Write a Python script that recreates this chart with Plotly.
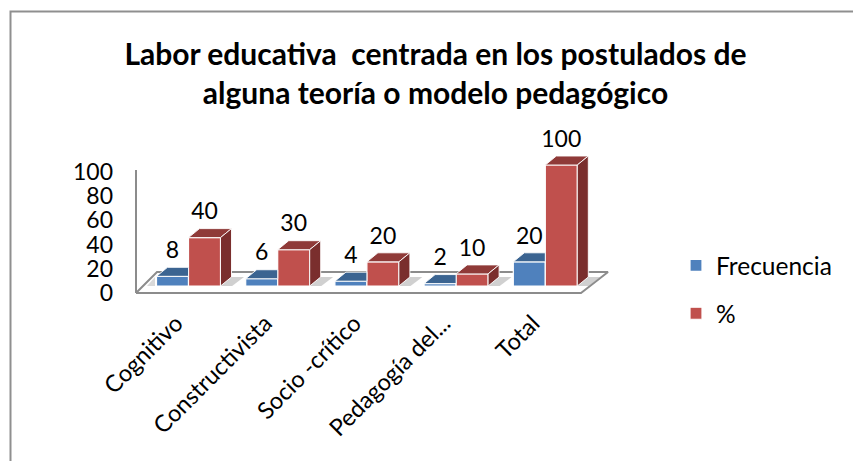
import plotly.graph_objects as go

categories = ["Cognitivo", "Constructivista", "Socio -crítico", "Pedagogía del...", "Total"]
frecuencia = [8, 6, 4, 2, 20]
porcentaje = [40, 30, 20, 10, 100]
y_ticks = [0, 20, 40, 60, 80, 100]
title_text = "Labor educativa  centrada en los postulados de<br>alguna teoría o modelo pedagógico"

W, H = 853, 461
L, R, T, B = 114, 620, 100, 300      # plot-area pixels
PX_X = 89.2                          # px per category
PX_Y = 1.21                          # px per value unit
X_ZERO = 188.5                       # px of category 0 (blue/red boundary)
Y0_MARK, Y0_AXIS = 286.0, 293.0      # px of zero for bars / for value axis

x_range = [(L - X_ZERO) / PX_X, (R - X_ZERO) / PX_X]
y_range_mark = [(Y0_MARK - B) / PX_Y, (Y0_MARK - T) / PX_Y]
y_range_axis = [(Y0_AXIS - B) / PX_Y, (Y0_AXIS - T) / PX_Y]

BW = 32 / PX_X
DX, DY = 11 / PX_X, 9 / PX_Y
FONT = "Lato, Carlito, sans-serif"
BLUE, BLUE_TOP = "#4F81BD", "#3B6491"
RED, RED_TOP, RED_SIDE = "#C0504D", "#8F3A38", "#7A2E2D"
GREY = "#8C8C8C"


def ux(px):
    return (px - X_ZERO) / PX_X


def uy(py):
    return (Y0_AXIS - py) / PX_Y


def poly(xs, ys, fill, xa="x", ya="y", line="rgba(255,255,255,0.9)", w=1):
    xs, ys = list(xs), list(ys)
    return go.Scatter(x=xs + [xs[0]], y=ys + [ys[0]], mode="lines", fill="toself",
                      fillcolor=fill, line=dict(color=line, width=w),
                      xaxis=xa, yaxis=ya, showlegend=False, hoverinfo="skip")


fig = go.Figure()

# floor and wall line, on the tick axis
fig.add_trace(poly([ux(136), ux(581), ux(608), ux(157)], [0, 0, uy(272), uy(272)],
                   "white", line=GREY, w=2))
fig.add_trace(go.Scatter(x=[ux(136), ux(136)], y=[0, uy(170)], mode="lines",
                         line=dict(color=GREY, width=2), showlegend=False, hoverinfo="skip"))
for k in range(len(categories)):
    xr = k + BW
    fig.add_trace(poly([xr, xr + DX, xr + DX + 0.14, xr + 0.13],
                       [uy(286), uy(277), uy(277), uy(286)],
                       "rgba(170,170,170,0.55)", line="rgba(0,0,0,0)", w=0))
fig.add_trace(poly([ux(147), ux(155), ux(155)], [uy(286), uy(277), uy(286)],
                   "rgba(170,170,170,0.45)", line="rgba(0,0,0,0)", w=0))

# front faces
fig.add_trace(go.Bar(x=list(range(5)), y=frecuencia, width=BW, offset=-BW, name="Frecuencia",
                     marker=dict(color=BLUE, line=dict(color="white", width=1.2)),
                     xaxis="x2", yaxis="y2", legendgroup="a", hoverinfo="skip"))
fig.add_trace(go.Bar(x=list(range(5)), y=porcentaje, width=BW, offset=0, name="%",
                     marker=dict(color=RED, line=dict(color="white", width=1.2)),
                     xaxis="x2", yaxis="y2", legendgroup="b", hoverinfo="skip"))

# top and side faces
for k, (f, p) in enumerate(zip(frecuencia, porcentaje)):
    fig.add_trace(poly([k - BW, k - BW + DX, k, k], [f, f + DY, f + DY, f], BLUE_TOP, "x2", "y2"))
    fig.add_trace(poly([k, k + DX, k + BW + DX, k + BW], [p, p + DY, p + DY, p], RED_TOP, "x2", "y2"))
    fig.add_trace(poly([k + BW, k + BW + DX, k + BW + DX, k + BW], [p, p + DY, DY, 0], RED_SIDE, "x2", "y2"))

# value labels
LABEL_UP = 24 / PX_Y
fig.add_trace(go.Scatter(x=[k - BW / 2 for k in range(5)] + [k + BW / 2 for k in range(5)],
                         y=[v + LABEL_UP for v in frecuencia + porcentaje],
                         text=[str(v) for v in frecuencia + porcentaje],
                         mode="text", textposition="middle center", cliponaxis=False,
                         textfont=dict(family=FONT, size=23, color="black"),
                         xaxis="x2", yaxis="y2", showlegend=False, hoverinfo="skip"))

fig.update_layout(
    width=W, height=H, autosize=False,
    margin=dict(l=L, r=W - R, t=T, b=H - B, pad=0),
    paper_bgcolor="white", plot_bgcolor="rgba(0,0,0,0)",
    barmode="overlay",
    font=dict(family=FONT, color="black"),
    title=dict(text=title_text, x=435.5 / W, xanchor="center", y=1 - 65 / H, yanchor="middle",
               font=dict(family=FONT, size=30, color="black", weight="bold")),
    xaxis=dict(range=x_range, showgrid=False, zeroline=False, showline=False,
               tickmode="array", tickvals=[k - 0.14 for k in range(5)], ticktext=categories,
               tickangle=-45, ticks="", ticklabelstandoff=4,
               tickfont=dict(family=FONT, size=23.5, color="black")),
    yaxis=dict(range=y_range_axis, showgrid=False, zeroline=False, showline=False,
               tickmode="array", tickvals=y_ticks, ticks="",
               tickfont=dict(family=FONT, size=23, color="black")),
    xaxis2=dict(range=x_range, overlaying="x", visible=False),
    yaxis2=dict(range=y_range_mark, overlaying="y", visible=False),
    legend=dict(x=(676 - L) / (R - L), y=1 - (243 - T) / (B - T),
                xanchor="left", yanchor="top", traceorder="grouped", tracegroupgap=13,
                font=dict(family=FONT, size=24.5, color="black"), bgcolor="rgba(0,0,0,0)"),
    shapes=[dict(type="path", xref="paper", yref="paper",
                 path=f"M {(10.5 - L) / (R - L)} {1 - (H + 5 - T) / (B - T)} "
                      f"L {(10.5 - L) / (R - L)} {1 - (11.5 - T) / (B - T)} "
                      f"L {(W + 5 - L) / (R - L)} {1 - (11.5 - T) / (B - T)}",
                 line=dict(color="#8F8F8F", width=2))],
)

fig.write_html("out.html", config={"displayModeBar": False},
               post_script="document.body.style.margin='0';document.body.style.overflow='hidden';")
